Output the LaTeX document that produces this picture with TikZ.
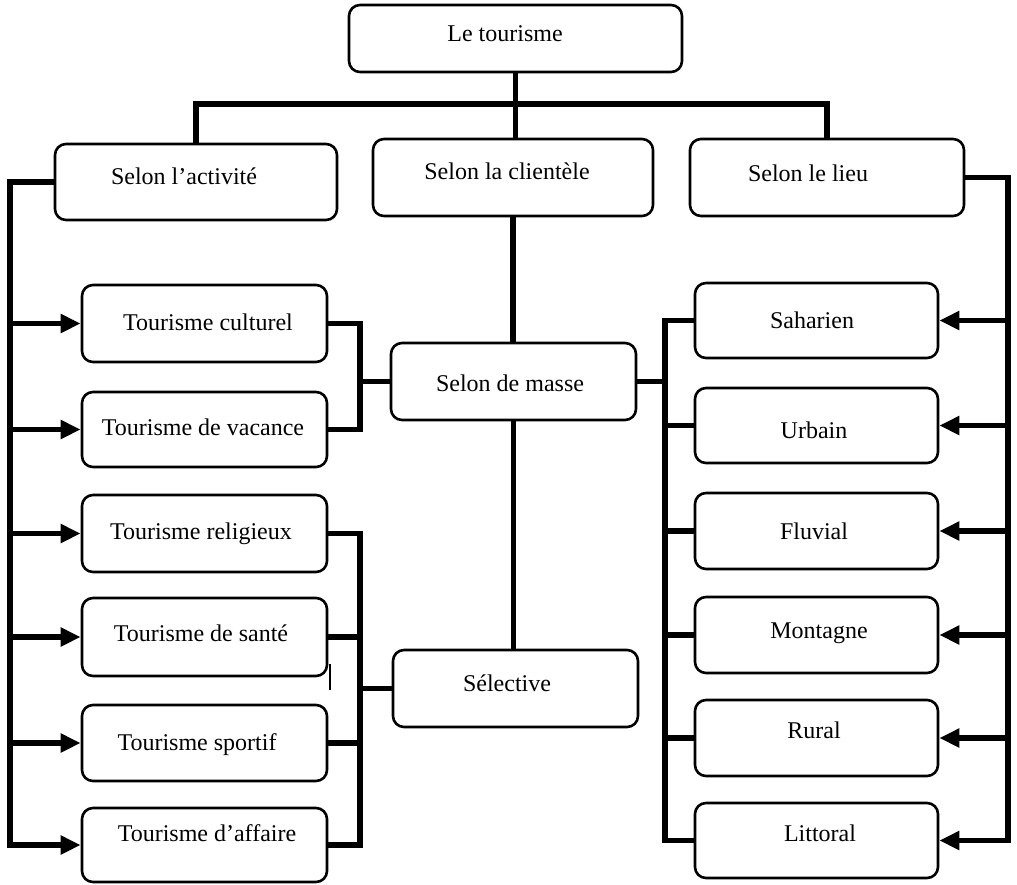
\documentclass[tikz,border=0pt]{standalone}
\usepackage{fontspec}
\setmainfont{Liberation Serif}
\usetikzlibrary{arrows.meta}
\begin{document}
\begin{tikzpicture}[x=1pt,y=-1pt,
  box/.style={draw, line width=2.6pt, rounded corners=11pt, inner sep=0pt},
  txt/.style={anchor=base, inner sep=0pt, font=\fontsize{24}{28}\selectfont},
  conn/.style={line width=5.5pt, line join=miter, line cap=rect},
  arr/.style={line width=5.5pt, -{Triangle[length=20pt,width=18pt]}}]
\useasboundingbox (0,0) rectangle (1017,884);
\fill[white] (0,0) rectangle (1017,884);
% boxes
\node[box, minimum width=333pt, minimum height=67pt] (top) at (515.5,38.5) {};
\node[box, minimum width=282pt, minimum height=76pt] (act) at (196,182) {};
\node[box, minimum width=280pt, minimum height=77pt] (cli) at (513,177.5) {};
\node[box, minimum width=274pt, minimum height=77pt] (lieu) at (827,177.5) {};
\node[box, minimum width=245pt, minimum height=77pt] (cul) at (204.5,323.5) {};
\node[box, minimum width=245pt, minimum height=75pt] (vac) at (204.5,429.5) {};
\node[box, minimum width=245pt, minimum height=77pt] (rel) at (204.5,533.5) {};
\node[box, minimum width=245pt, minimum height=78pt] (san) at (204.5,637) {};
\node[box, minimum width=245pt, minimum height=76pt] (spo) at (204.5,743) {};
\node[box, minimum width=245pt, minimum height=74pt] (aff) at (204.5,845) {};
\node[box, minimum width=245pt, minimum height=77pt] (masse) at (513.5,381.5) {};
\node[box, minimum width=245pt, minimum height=77pt] (sel) at (515.5,688.5) {};
\node[box, minimum width=243pt, minimum height=75pt] (sah) at (816.5,320.5) {};
\node[box, minimum width=243pt, minimum height=75pt] (urb) at (816.5,425.5) {};
\node[box, minimum width=243pt, minimum height=76pt] (flu) at (816.5,531) {};
\node[box, minimum width=243pt, minimum height=76pt] (mon) at (816.5,635) {};
\node[box, minimum width=243pt, minimum height=76pt] (rur) at (816.5,738) {};
\node[box, minimum width=243pt, minimum height=75pt] (lit) at (816.5,840.5) {};
% texts
\node[txt] (top-t) at (505,41) {Le tourisme};
\node[txt] (act-t) at (184,184) {Selon l’activité};
\node[txt] (cli-t) at (507,179) {Selon la clientèle};
\node[txt] (lieu-t) at (808,181) {Selon le lieu};
\node[txt] (cul-t) at (208,330) {Tourisme culturel};
\node[txt] (vac-t) at (203,435) {Tourisme de vacance};
\node[txt] (rel-t) at (201,539) {Tourisme religieux};
\node[txt] (san-t) at (201,641) {Tourisme de santé};
\node[txt] (spo-t) at (197,750) {Tourisme sportif};
\node[txt] (aff-t) at (207,841) {Tourisme d’affaire};
\node[txt] (masse-t) at (510,391) {Selon de masse};
\node[txt] (sel-t) at (507,691) {Sélective};
\node[txt] (sah-t) at (812,328) {Saharien};
\node[txt] (urb-t) at (814,438) {Urbain};
\node[txt] (flu-t) at (814,539) {Fluvial};
\node[txt] (mon-t) at (819,638) {Montagne};
\node[txt] (rur-t) at (814,738) {Rural};
\node[txt] (lit-t) at (820,841) {Littoral};
% coordinates
\coordinate (hub) at (517,104);
\coordinate (lsp) at (10,845);
\coordinate (rsp) at (1008,840.5);
\coordinate (b1) at (360,381.5);
\coordinate (b2) at (360,688.5);
\coordinate (b3) at (665,381.5);
% top tree
\draw[conn] (act.north) |- (hub) -| (lieu.north);
\draw[conn] (top.south) -- (top.south |- cli.north);
\draw[conn] (cli.south) -- (cli.south |- masse.north);
\draw[conn] (masse.south) -- (masse.south |- sel.north);
% left spine
\draw[conn] (act.west) -| (lsp);
\foreach \n in {cul,vac,rel,san,spo,aff}
  \draw[arr] (\n.west -| lsp) -- (\n.west);
% right spine
\draw[conn] (lieu.east) -| (rsp);
\foreach \n in {sah,urb,flu,mon,rur,lit}
  \draw[arr] (\n.east -| rsp) -- (\n.east);
% brackets
\draw[conn] (cul.east) -| (b1) |- (vac.east);
\draw[conn] (masse.west) -- (b1);
\draw[conn] (rel.east) -| (b2) |- (aff.east);
\draw[conn] (san.east) -- (san.east -| b2);
\draw[conn] (spo.east) -- (spo.east -| b2);
\draw[conn] (sel.west) -- (b2);
\draw[conn] (sah.west) -| (b3) |- (lit.west);
\draw[conn] (masse.east) -- (b3);
\foreach \n in {urb,flu,mon,rur}
  \draw[conn] (\n.west) -- (\n.west -| b3);
\draw[line width=1.2pt] (330,664) -- (330,690);
\end{tikzpicture}
\end{document}
